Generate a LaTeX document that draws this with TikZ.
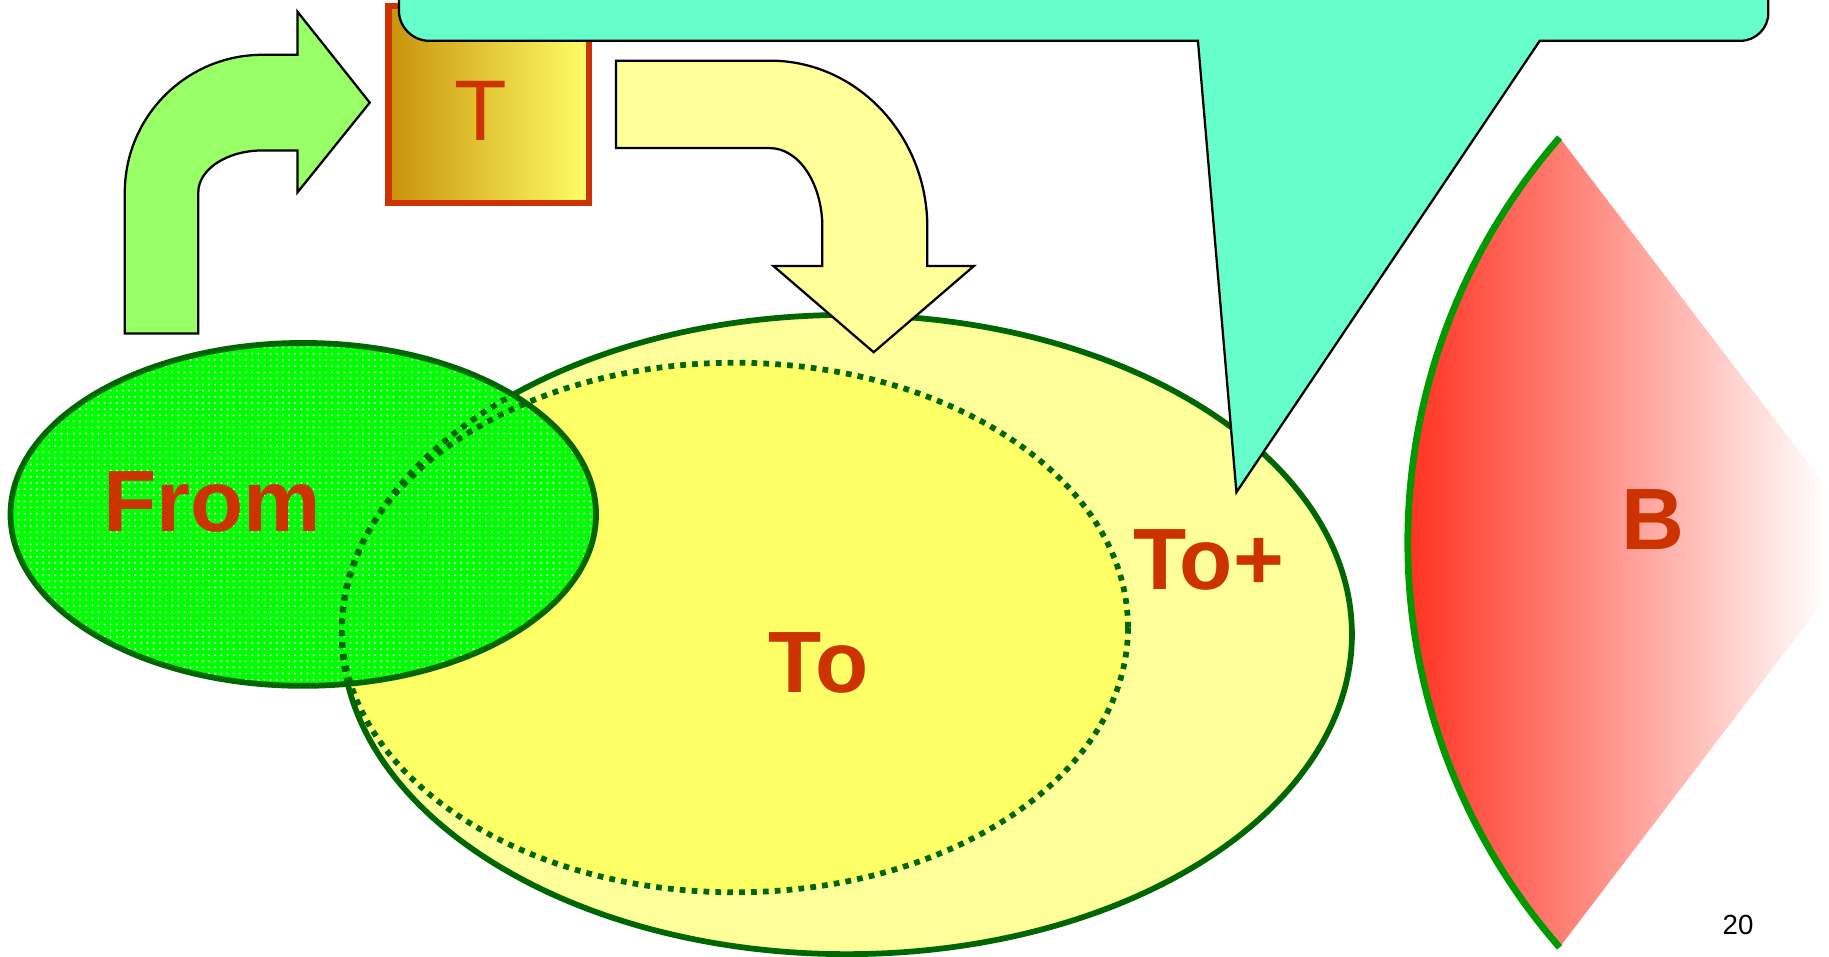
\documentclass[tikz,border=0pt]{standalone}
\usepackage{fontspec}
\setmainfont{Liberation Sans}
\usetikzlibrary{patterns}

\definecolor{textred}{HTML}{CC3300}
\definecolor{darkgreen}{HTML}{006600}
\definecolor{lightgreen}{HTML}{99FF66}
\definecolor{paleyellow}{HTML}{FFFF99}
\definecolor{brightyellow}{HTML}{FFFF66}
\definecolor{gold}{HTML}{C8920A}
\definecolor{aqua}{HTML}{66FFCC}
\definecolor{leafgreen}{HTML}{009900}
\definecolor{redorange}{HTML}{FF3322}

\tikzset{
  bigarrow/.style={draw=black, line width=1.1pt, line join=miter},
  zone/.style={draw=darkgreen, line width=2.8pt},
  dotline/.style={draw=darkgreen, line width=2.8pt, dash pattern=on 2.8pt off 3pt},
  lbl/.style={text=textred, font=\fontsize{42.5}{48}\selectfont\bfseries},
}

\begin{document}
\begin{tikzpicture}[x=0.2mm, y=0.2mm]
    \useasboundingbox (0,0) rectangle (1568,820);
    \clip (0,0) rectangle (1568,820);

    % To+ and To
    \draw[zone, fill=paleyellow] (726,276) ellipse [x radius=433, y radius=274];
    \fill[brightyellow] (630,282) ellipse [x radius=337, y radius=227];
    \draw[dotline] (630,282) ellipse [x radius=337, y radius=227];

    % From
    \fill[green] (260,379) ellipse [x radius=251, y radius=147];
    \fill[pattern=dots, pattern color=white] (260,379) ellipse [x radius=251, y radius=147];
    \begin{scope}
        \clip (260,379) ellipse [x radius=251, y radius=147];
        \draw[dotline] (726,276) ellipse [x radius=433, y radius=274];
        \draw[dotline] (630,282) ellipse [x radius=337, y radius=227];
    \end{scope}
    \draw[zone] (260,379) ellipse [x radius=251, y radius=147];

    % green arrow up and right
    \draw[bigarrow, fill=lightgreen] (107,534) -- (107,655)
        arc [start angle=180, end angle=90, radius=118] -- (255,773) -- (255,810)
        -- (317,732) -- (255,655) -- (255,691) -- (225,691)
        arc [start angle=90, end angle=180, x radius=55, y radius=36] -- (170,534) -- cycle;

    % T box
    \shade[left color=gold, right color=brightyellow] (333,646) rectangle (505,815);
    \draw[textred, line width=3.2pt] (333,646) rectangle (505,815);

    % yellow arrow right and down
    \draw[bigarrow, fill=paleyellow] (528,768) -- (660,768)
        arc [start angle=90, end angle=0, x radius=135, y radius=143] -- (795,592) -- (835,592)
        -- (749,518) -- (663,592) -- (705,592) -- (705,625)
        arc [start angle=0, end angle=90, x radius=45, y radius=68] -- (528,693) -- cycle;

    % callout
    \draw[bigarrow, fill=aqua] (342,900) -- (342,811)
        arc [start angle=180, end angle=270, radius=26] -- (1027,785) -- (1060,398)
        -- (1320,785) -- (1492,785)
        arc [start angle=270, end angle=360, radius=24] -- (1516,900) -- cycle;

    % B
    \begin{scope}
        \clip (1337,702) arc [start angle=138.9, end angle=221.1, radius=528] -- (1602,355) -- cycle;
        \shade[left color=redorange, right color=white] (1207,8) rectangle (1566,702);
    \end{scope}
    \draw[leafgreen, line width=3.3pt] (1337,702) arc [start angle=138.9, end angle=221.1, radius=528];

    % labels
    \node[lbl] (from) at (182,390) {From};
    \node[lbl] (toplus) at (1036,340) {To+};
    \node[lbl] (to) at (702,252) {To};
    \node[lbl] (b) at (1417,375) {B};
    \node[text=textred, font=\fontsize{42}{48}\selectfont] (t) at (412,725) {T};
    \node[font=\fontsize{13.5}{16}\selectfont] (page) at (1490,27) {20};
\end{tikzpicture}
\end{document}
